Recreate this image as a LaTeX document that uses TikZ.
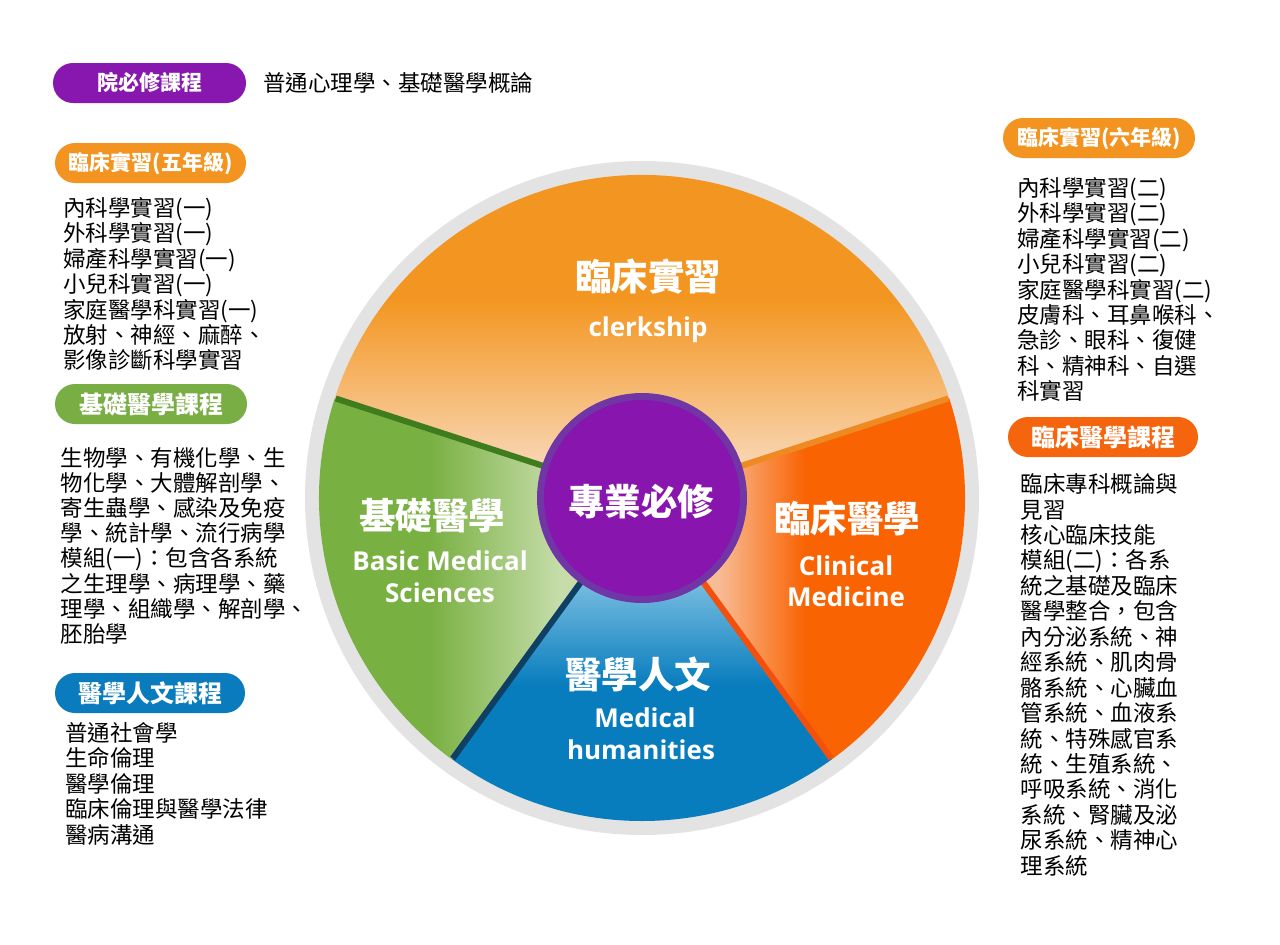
\documentclass[tikz,border=0pt]{standalone}
\usepackage{fontspec}
\setmainfont{Noto Sans CJK TC}
\newfontfamily\enfont{Open Sans}
\definecolor{ringgrey}{HTML}{E3E3E3}
\definecolor{corange}{HTML}{F39621}
\definecolor{cpeach}{HTML}{F9D6B4}
\definecolor{cgreen}{HTML}{79B042}
\definecolor{cgreenlt}{HTML}{C6DDAA}
\definecolor{cred}{HTML}{F96302}
\definecolor{credlt}{HTML}{F8BC95}
\definecolor{cblue}{HTML}{087DBE}
\definecolor{cbluelt}{HTML}{7FC1E3}
\definecolor{ldgreen}{HTML}{3E7C1E}
\definecolor{lorange}{HTML}{EF8A22}
\definecolor{lnavy}{HTML}{0F3F63}
\definecolor{lred}{HTML}{F2500C}
\definecolor{cpurple}{HTML}{8815AE}
\definecolor{cpurplering}{HTML}{7136A6}
\definecolor{ppurple}{HTML}{8717AF}
\definecolor{porange}{HTML}{F39420}
\definecolor{pgreen}{HTML}{79AE45}
\definecolor{pblue}{HTML}{0A7CBD}
\definecolor{pred}{HTML}{F5650D}
\tikzset{
  body/.style={anchor=west, inner sep=0pt, text=black,
    font=\fontsize{22.5}{25}\selectfont, text height=18.7pt, text depth=1.6pt},
  pill/.style={rounded corners=20pt, minimum width=192pt, minimum height=40pt,
    inner sep=0pt, text=white, font=\fontsize{21}{24}\selectfont\bfseries,
    text height=17.4pt, text depth=1.5pt},
  pillbig/.style={pill, font=\fontsize{24}{26}\selectfont\bfseries,
    text height=19.9pt, text depth=1.7pt},
  cjkbig/.style={text=white, font=\fontsize{36.5}{40}\selectfont\bfseries, inner sep=0pt},
  entext/.style={text=white, font=\enfont\bfseries\fontsize{26}{32}\selectfont,
    inner sep=0pt, anchor=base},
  sepline/.style={line width=6pt}
}
\begin{document}
\begin{tikzpicture}[x=1pt,y=-1pt]
\useasboundingbox (0,0) rectangle (1280,945);
\fill[white] (0,0) rectangle (1280,945);
\coordinate (C) at (642,498);
% grey ring
\fill[ringgrey] (C) circle[radius=337];
% orange slice (clerkship)
\begin{scope}
  \clip (C) -- ++(198:323) arc[start angle=198, end angle=342, radius=323] -- cycle;
  \fill[corange] (280,140) rectangle (1000,300);
  \shade[top color=corange, bottom color=cpeach] (280,300) rectangle (1000,465);
  \fill[cpeach] (280,465) rectangle (1000,530);
\end{scope}
% red slice (clinical medicine)
\begin{scope}
  \clip (C) -- ++(342:323) arc[start angle=342, end angle=414, radius=323] -- cycle;
  \fill[cred] (600,380) rectangle (1000,850);
  \shade[left color=credlt, right color=cred] (718,380) rectangle (805,850);
  \fill[credlt] (600,380) rectangle (718,850);
\end{scope}
% blue slice (humanities)
\begin{scope}
  \clip (C) -- ++(54:323) arc[start angle=54, end angle=126, radius=323] -- cycle;
  \fill[cblue] (400,480) rectangle (900,850);
  \shade[top color=cbluelt, bottom color=cblue] (400,575) rectangle (900,685);
  \fill[cbluelt] (400,480) rectangle (900,575);
\end{scope}
% green slice (basic sciences)
\begin{scope}
  \clip (C) -- ++(126:323) arc[start angle=126, end angle=198, radius=323] -- cycle;
  \fill[cgreen] (300,380) rectangle (700,850);
  \shade[left color=cgreen, right color=cgreenlt] (430,380) rectangle (560,850);
  \fill[cgreenlt] (560,380) rectangle (700,850);
\end{scope}
% separator lines
\draw[sepline, ldgreen] (C) -- ++(198:322);
\draw[sepline, lorange] (C) -- ++(342:322);
\draw[sepline, lnavy] (C) -- ++(126:322);
\draw[sepline, lred] (C) -- ++(54:322);
% centre circle
\fill[cpurplering] (C) circle[radius=105];
\node[circle, fill=cpurple, minimum size=196pt, inner sep=0pt] (core) at (C) {};
\node[cjkbig] (coret) at (641,502) {專業必修};
% slice titles
\node[cjkbig] (t1) at (648,277) {臨床實習};
\node[entext] (e1) at (648,336) {clerkship};
\node[cjkbig] (t2) at (432,516) {基礎醫學};
\node[entext] (e2a) at (440,570) {Basic Medical};
\node[entext] (e2b) at (440,602) {Sciences};
\node[cjkbig] (t3) at (847,518) {臨床醫學};
\node[entext] (e3a) at (846,575) {Clinical};
\node[entext] (e3b) at (846,606) {Medicine};
\node[cjkbig] (t4) at (638,674) {醫學人文};
\node[entext] (e4a) at (645,727) {Medical};
\node[entext] (e4b) at (641,759) {humanities};
% pills
\node[pill, fill=ppurple, minimum width=193pt] (p1) at (149.5,83) {院必修課程};
\node[body] (p1t) at (263,83) {普通心理學、基礎醫學概論};
\node[pill, fill=porange, minimum width=191pt] (p2) at (150.5,163) {臨床實習(五年級)};
\node[pillbig, fill=pgreen] (p3) at (151,404) {基礎醫學課程};
\node[pillbig, fill=pblue, minimum width=190pt] (p4) at (150,693) {醫學人文課程};
\node[pill, fill=porange] (p5) at (1099,138) {臨床實習(六年級)};
\node[pillbig, fill=pred, minimum width=190pt] (p6) at (1103,437) {臨床醫學課程};
% lists
\foreach \t [count=\i] in {內科學實習(一),外科學實習(一),婦產科學實習(一),小兒科實習(一),家庭醫學科實習(一),放射、神經、麻醉、,影像診斷科學實習}
  \node[body] (la\i) at (63,{208+25.4*(\i-1)}) {\t};
\foreach \t [count=\i] in {生物學、有機化學、生,物化學、大體解剖學、,寄生蟲學、感染及免疫,學、統計學、流行病學,模組(一)：包含各系統,之生理學、病理學、藥,理學、組織學、解剖學、,胚胎學}
  \node[body] (lb\i) at (60.5,{457.5+25.2*(\i-1)}) {\t};
\foreach \t [count=\i] in {普通社會學,生命倫理,醫學倫理,臨床倫理與醫學法律,醫病溝通}
  \node[body] (lc\i) at (65,{733+25.4*(\i-1)}) {\t};
\foreach \t [count=\i] in {內科學實習(二),外科學實習(二),婦產科學實習(二),小兒科實習(二),家庭醫學科實習(二),皮膚科、耳鼻喉科、,急診、眼科、復健,科、精神科、自選,科實習}
  \node[body] (ra\i) at (1017,{188+25.4*(\i-1)}) {\t};
\foreach \t [count=\i] in {臨床專科概論與,見習,核心臨床技能,模組(二)：各系,統之基礎及臨床,醫學整合，包含,內分泌系統、神,經系統、肌肉骨,骼系統、心臟血,管系統、血液系,統、特殊感官系,統、生殖系統、,呼吸系統、消化,系統、腎臟及泌,尿系統、精神心,理系統}
  \node[body] (rb\i) at (1020.5,{484+25.45*(\i-1)}) {\t};
\end{tikzpicture}
\end{document}
